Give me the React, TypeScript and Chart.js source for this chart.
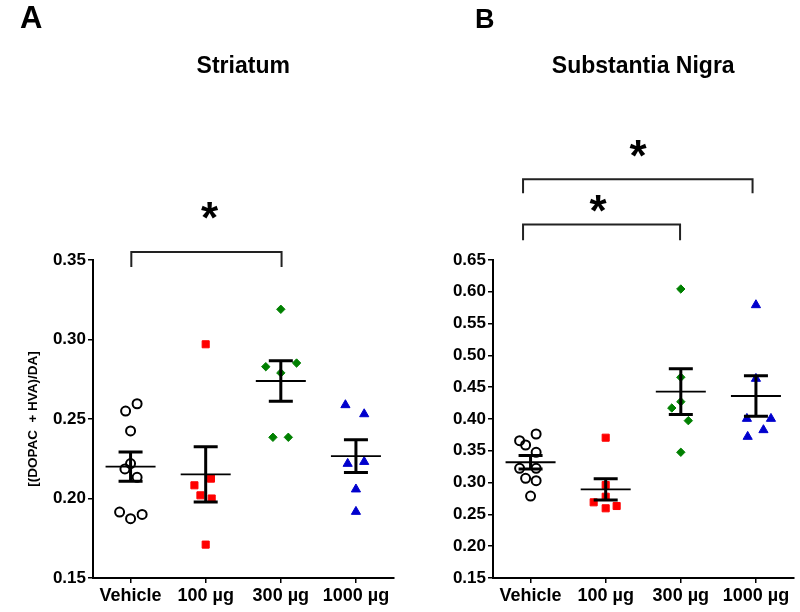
import React, { useEffect, useRef } from 'react';
import { Chart, registerables } from 'chart.js';

Chart.register(...registerables);

const FONT = '"Liberation Sans", Arial, Helvetica, sans-serif';

// ---------- Data ----------
const categories = ['Vehicle', '100 µg', '300 µg', '1000 µg'];

// Panel A – Striatum
const striatumVehicle = [0.2596, 0.255, 0.2425, 0.222, 0.2186, 0.2133, 0.1915, 0.1873, 0.19];
const striatumVehicleX = [0.087, -0.066, 0, 0, -0.075, 0.087, -0.146, 0, 0.154];
const striatum100 = [0.297, 0.2125, 0.2083, 0.202, 0.2, 0.171];
const striatum100X = [0, 0.07, -0.15, -0.07, 0.08, 0];
const striatum300 = [0.319, 0.2852, 0.2829, 0.279, 0.2385, 0.2385];
const striatum300X = [0, 0.21, -0.2, 0, -0.105, 0.1];
const striatum1000 = [0.2588, 0.2531, 0.2219, 0.2231, 0.2058, 0.1917];
const striatum1000X = [-0.14, 0.11, -0.11, 0.11, 0, 0];
const striatumMeans = [0.22, 0.2152, 0.2739, 0.2267];
const striatumSem = [0.0092, 0.0174, 0.0127, 0.0103];
const striatumTicks = [0.15, 0.2, 0.25, 0.3, 0.35];

// Panel B – Substantia Nigra
const nigraVehicle = [0.3659, 0.3764, 0.3591, 0.3476, 0.3225, 0.3225, 0.3068, 0.303, 0.2789];
const nigraVehicleX = [-0.146, 0.074, -0.066, 0.074, -0.146, 0.074, -0.066, 0.074, 0];
const nigra100 = [0.3706, 0.2962, 0.2778, 0.269, 0.2596, 0.2632];
const nigra100X = [0, 0, 0, -0.16, 0, 0.146];
const nigra300 = [0.6044, 0.4656, 0.4272, 0.4173, 0.3974, 0.3477];
const nigra300X = [0, 0, 0, -0.12, 0.1, 0];
const nigra1000 = [0.5792, 0.4634, 0.4005, 0.4005, 0.3827, 0.3722];
const nigra1000X = [0, 0, -0.12, 0.2, 0.1, -0.11];
const nigraMeans = [0.332, 0.2894, 0.443, 0.4362];
const nigraSem = [0.0107, 0.0168, 0.0359, 0.0317];
const nigraTicks = [0.15, 0.2, 0.25, 0.3, 0.35, 0.4, 0.45, 0.5, 0.55, 0.6, 0.65];

// Significance brackets: [fromCategory, toCategory, topValue, legEndValue]
const striatumBrackets = [[0.01, 2.01, 0.355, 0.3456]];
const striatumStars = [[1.05, 0.381]];
const nigraBrackets = [
  [-0.1, 2.955, 0.777, 0.755],
  [-0.1, 1.99, 0.706, 0.681],
];
const nigraStars = [
  [1.43, 0.826],
  [0.9, 0.7396],
];

// ---------- Styles ----------
const groupStyles = [
  { pointStyle: 'circle', pointRadius: 4.5, backgroundColor: 'rgba(0,0,0,0)', borderColor: '#000', borderWidth: 2 },
  { pointStyle: 'rect', pointRadius: 5, backgroundColor: '#ff0000', borderColor: '#ff0000', borderWidth: 1 },
  { pointStyle: 'rectRot', pointRadius: 4.2, backgroundColor: '#008000', borderColor: '#008000', borderWidth: 1 },
  { pointStyle: 'triangle', pointRadius: 5.3, backgroundColor: '#0000cd', borderColor: '#0000cd', borderWidth: 1 },
];

type PanelSpec = {
  letter: string;
  letterSize: number;
  title: string;
  yTitle: string | null;
  groups: number[][];
  offsets: number[][];
  means: number[];
  sems: number[];
  ticks: number[];
  brackets: number[][];
  stars: number[][];
};

const panels: PanelSpec[] = [
  {
    letter: 'A',
    letterSize: 31,
    title: 'Striatum',
    yTitle: '[(DOPAC  + HVA)/DA]',
    groups: [striatumVehicle, striatum100, striatum300, striatum1000],
    offsets: [striatumVehicleX, striatum100X, striatum300X, striatum1000X],
    means: striatumMeans,
    sems: striatumSem,
    ticks: striatumTicks,
    brackets: striatumBrackets,
    stars: striatumStars,
  },
  {
    letter: 'B',
    letterSize: 27,
    title: 'Substantia Nigra',
    yTitle: null,
    groups: [nigraVehicle, nigra100, nigra300, nigra1000],
    offsets: [nigraVehicleX, nigra100X, nigra300X, nigra1000X],
    means: nigraMeans,
    sems: nigraSem,
    ticks: nigraTicks,
    brackets: nigraBrackets,
    stars: nigraStars,
  },
];

function drawStar(ctx: CanvasRenderingContext2D, cx: number, cy: number) {
  ctx.save();
  ctx.font = `bold 44px ${FONT}`;
  ctx.textAlign = 'center';
  ctx.textBaseline = 'alphabetic';
  ctx.fillStyle = '#000';
  const m = ctx.measureText('*');
  const asc = m.actualBoundingBoxAscent || 30;
  const desc = m.actualBoundingBoxDescent || -17;
  const baseline = cy - (desc - asc) / 2;
  ctx.fillText('*', cx, baseline);
  ctx.restore();
}

function makePlugin(p: PanelSpec) {
  return {
    id: 'annot' + p.letter,
    afterDatasetsDraw(chart: any) {
      const { ctx } = chart;
      const x = chart.scales.x;
      const y = chart.scales.y;
      ctx.save();
      ctx.strokeStyle = '#000';
      p.means.forEach((m: number, i: number) => {
        const cx = x.getPixelForValue(i);
        const ym = y.getPixelForValue(m);
        const yt = y.getPixelForValue(m + p.sems[i]);
        const yb = y.getPixelForValue(m - p.sems[i]);
        ctx.lineWidth = 1.8;
        ctx.beginPath();
        ctx.moveTo(cx - 25, ym);
        ctx.lineTo(cx + 25, ym);
        ctx.stroke();
        ctx.lineWidth = 3;
        ctx.beginPath();
        ctx.moveTo(cx, yt);
        ctx.lineTo(cx, yb);
        ctx.moveTo(cx - 12, yt);
        ctx.lineTo(cx + 12, yt);
        ctx.moveTo(cx - 12, yb);
        ctx.lineTo(cx + 12, yb);
        ctx.stroke();
      });
      ctx.restore();
    },
    afterDraw(chart: any) {
      const { ctx, chartArea } = chart;
      const x = chart.scales.x;
      const y = chart.scales.y;
      ctx.save();
      ctx.fillStyle = '#000';
      ctx.font = `bold ${p.letterSize}px ${FONT}`;
      ctx.textAlign = 'left';
      ctx.textBaseline = 'alphabetic';
      ctx.fillText(p.letter, p.letter === 'A' ? 20 : 75, 28);
      ctx.font = `bold 23px ${FONT}`;
      ctx.textAlign = 'center';
      ctx.fillText(p.title, (chartArea.left + chartArea.right) / 2, 73);
      ctx.strokeStyle = '#222';
      ctx.lineWidth = 2;
      p.brackets.forEach((b: number[]) => {
        const x1 = x.getPixelForValue(b[0]);
        const x2 = x.getPixelForValue(b[1]);
        const yTop = y.getPixelForValue(b[2]);
        const yLeg = y.getPixelForValue(b[3]);
        ctx.beginPath();
        ctx.moveTo(x1, yLeg);
        ctx.lineTo(x1, yTop);
        ctx.lineTo(x2, yTop);
        ctx.lineTo(x2, yLeg);
        ctx.stroke();
      });
      p.stars.forEach((s: number[]) => {
        drawStar(ctx, x.getPixelForValue(s[0]), y.getPixelForValue(s[1]));
      });
      ctx.restore();
    },
  };
}

function Panel({ spec }: { spec: PanelSpec }) {
  const ref = useRef<HTMLCanvasElement | null>(null);
  useEffect(() => {
    if (!ref.current) return;
    const chart = new Chart(ref.current, {
      type: 'scatter',
      data: {
        datasets: spec.groups.map((vals, i) => ({
          label: categories[i],
          data: vals.map((v, j) => ({ x: i + spec.offsets[i][j], y: v })),
          ...groupStyles[i],
        })) as any,
      },
      options: {
        animation: false,
        responsive: false,
        maintainAspectRatio: false,
        events: [],
        layout: { padding: { top: 260, left: 0, right: 5, bottom: 0 } },
        plugins: { legend: { display: false }, tooltip: { enabled: false } },
        scales: {
          x: {
            type: 'linear',
            min: -0.5,
            max: 3.5,
            afterBuildTicks: (s: any) => {
              s.ticks = categories.map((_, i) => ({ value: i }));
            },
            afterFit: (s: any) => {
              s.height = 34;
            },
            ticks: {
              callback: (v: any) => categories[v as number] ?? '',
              font: { family: FONT, size: 18, weight: 'bold' },
              color: '#000',
              padding: 2,
              maxRotation: 0,
              autoSkip: false,
            },
            grid: { display: true, drawOnChartArea: false, drawTicks: true, tickLength: 5, color: '#000', lineWidth: 1.5 },
            border: { display: true, color: '#000', width: 2 },
          },
          y: {
            type: 'linear',
            min: spec.ticks[0],
            max: spec.ticks[spec.ticks.length - 1],
            afterBuildTicks: (s: any) => {
              s.ticks = spec.ticks.map((v) => ({ value: v }));
            },
            afterFit: (s: any) => {
              s.width = 93;
            },
            ticks: {
              callback: (v: any) => Number(v).toFixed(2),
              font: { family: FONT, size: 17, weight: 'bold' },
              color: '#000',
              padding: 2,
              autoSkip: false,
            },
            title: spec.yTitle
              ? {
                  display: true,
                  text: spec.yTitle,
                  font: { family: FONT, size: 13.5, weight: 'bold' },
                  color: '#000',
                  padding: { top: 25, bottom: 0 },
                }
              : { display: false },
            grid: { display: true, drawOnChartArea: false, drawTicks: true, tickLength: 5, color: '#000', lineWidth: 1.5 },
            border: { display: true, color: '#000', width: 2 },
          },
        },
      } as any,
      plugins: [makePlugin(spec)],
    });
    return () => chart.destroy();
  }, [spec]);
  return <canvas ref={ref} width={400} height={612} style={{ width: 400, height: 612, display: 'block' }} />;
}

export default function App() {
  return (
    <div style={{ position: 'absolute', left: 0, top: 0, width: 800, height: 612, display: 'flex', background: '#fff' }}>
      {panels.map((p) => (
        <Panel key={p.letter} spec={p} />
      ))}
    </div>
  );
}
